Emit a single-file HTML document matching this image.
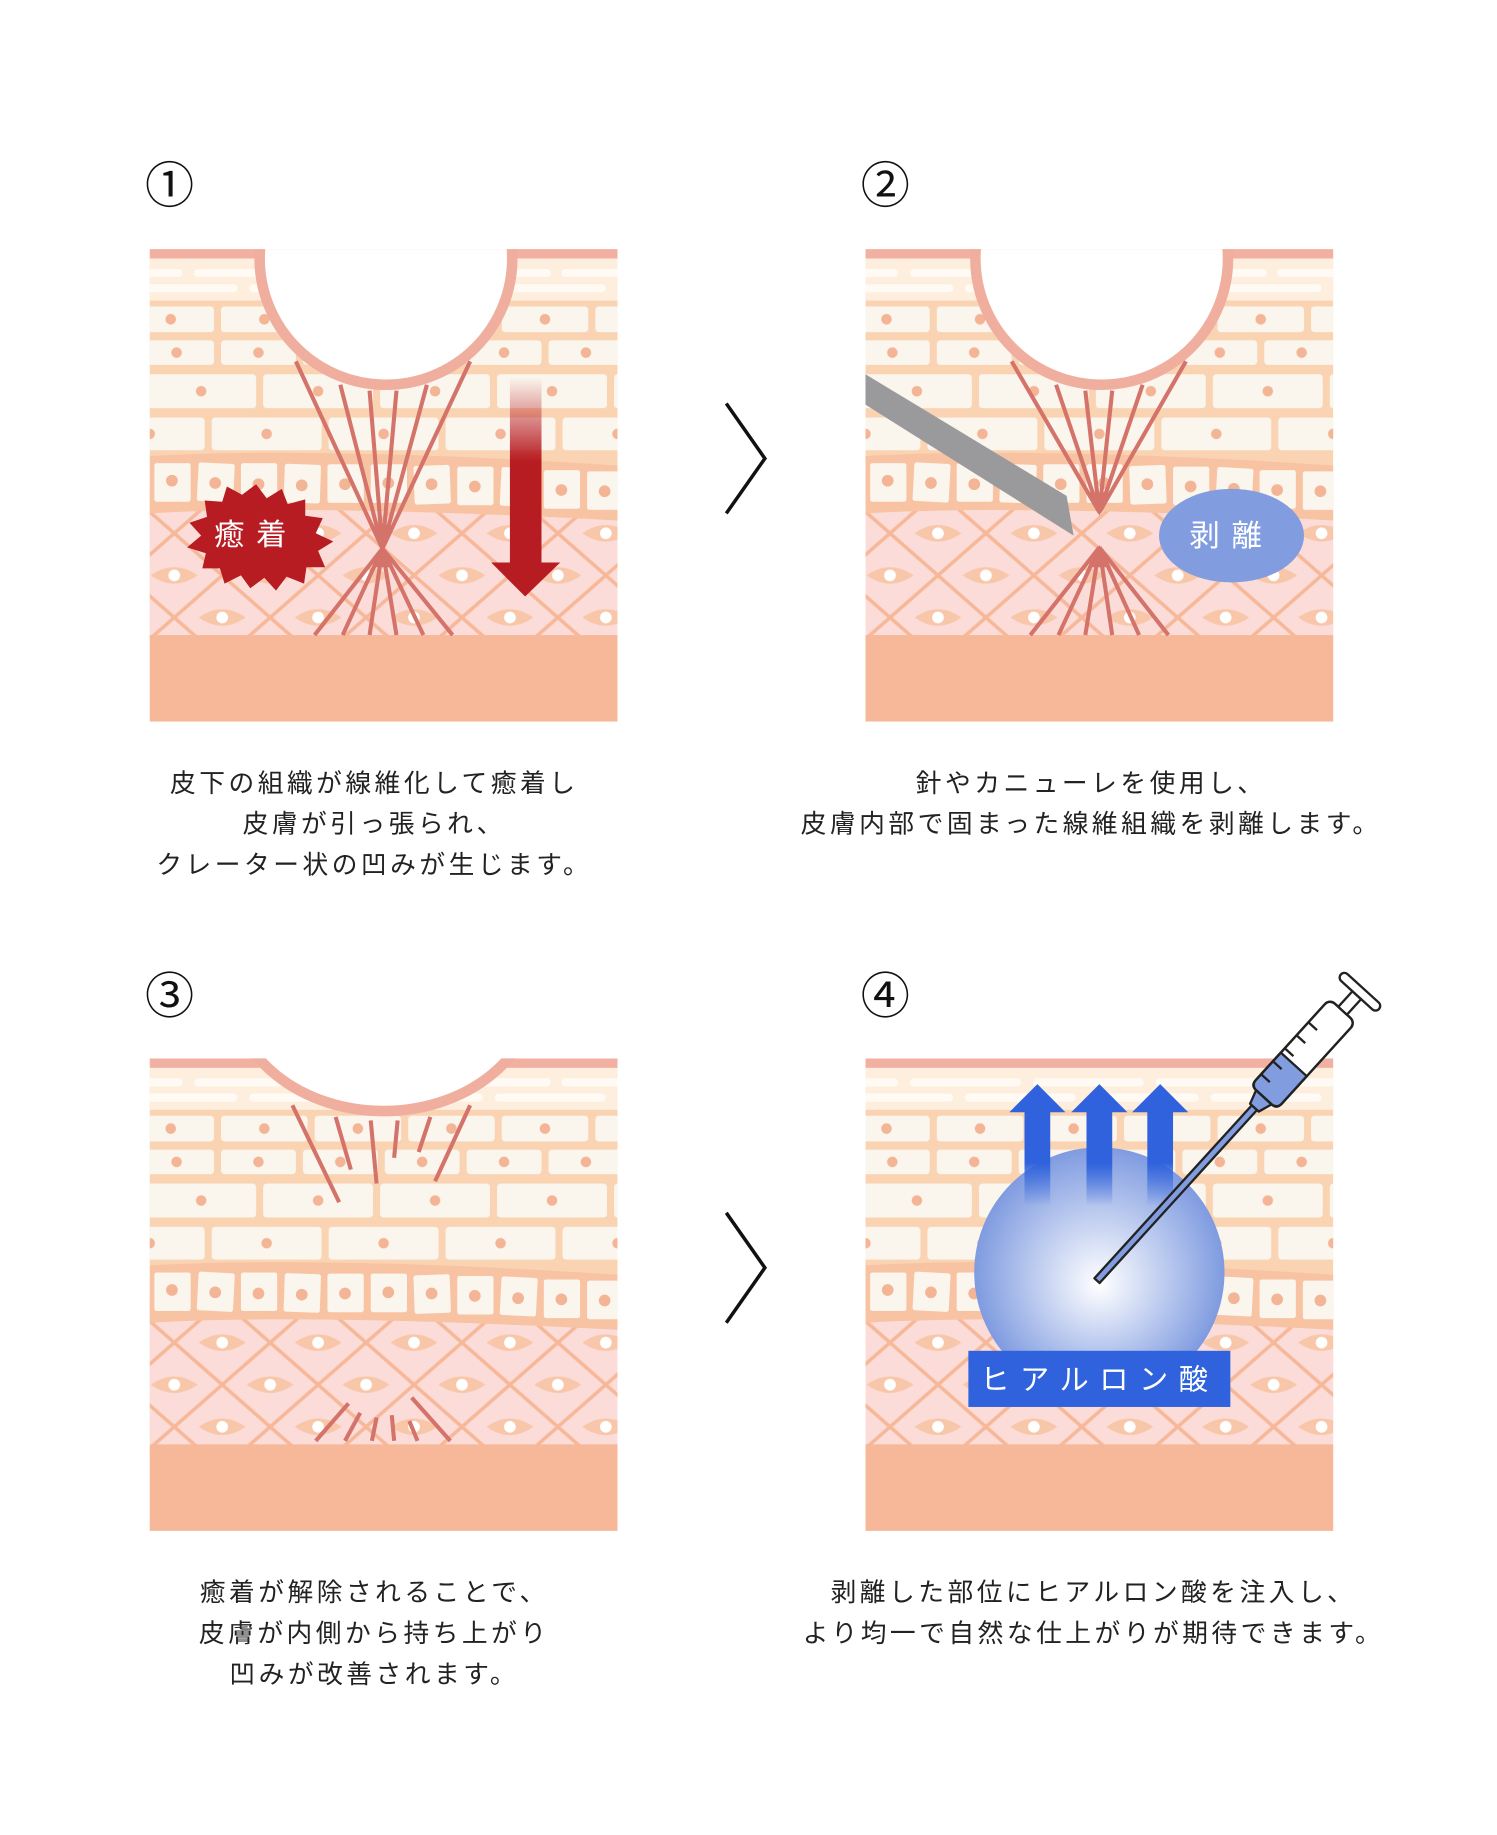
<!DOCTYPE html>
<html><head><meta charset="utf-8"><style>
html,body{margin:0;padding:0;background:#fff}
svg{display:block}
text{font-family:"Liberation Sans","Noto Sans CJK JP",sans-serif}
</style></head><body>
<svg width="1497" height="1835" viewBox="0 0 1280 1569" xmlns="http://www.w3.org/2000/svg">
<defs>
<clipPath id="cp"><rect x="0" y="0" width="400" height="404"/></clipPath>
<pattern id="r1" width="80" height="22" patternUnits="userSpaceOnUse" patternTransform="translate(-22,49)">
<rect x="3" y="0" width="74" height="22" rx="3" fill="#faf5ed"/><circle cx="40" cy="11" r="4.5" fill="#f4b496"/></pattern>
<pattern id="r2" width="70" height="21" patternUnits="userSpaceOnUse" patternTransform="translate(-12,78)">
<rect x="3" y="0" width="64" height="21" rx="3" fill="#faf5ed"/><circle cx="35" cy="10.5" r="4.5" fill="#f4b496"/></pattern>
<pattern id="r3" width="100" height="29" patternUnits="userSpaceOnUse" patternTransform="translate(-6,107)">
<rect x="3" y="0" width="94" height="29" rx="3" fill="#faf5ed"/><circle cx="50" cy="14.5" r="4.5" fill="#f4b496"/></pattern>
<pattern id="r4" width="100" height="28" patternUnits="userSpaceOnUse" patternTransform="translate(-50,144)">
<rect x="3" y="0" width="94" height="28" rx="3" fill="#faf5ed"/><circle cx="50" cy="14" r="4.5" fill="#f4b496"/></pattern>
<pattern id="lat" width="82" height="72" patternUnits="userSpaceOnUse" patternTransform="translate(-20,207)">
<rect width="82" height="72" fill="#fcdcd8"/>
<g fill="#f8c6a8">
<path d="M21 0 Q41 -14 61 0 Q41 14 21 0Z"/><path d="M21 72 Q41 58 61 72 Q41 86 21 72Z"/>
<path d="M-20 36 Q0 22 20 36 Q0 50 -20 36Z"/><path d="M62 36 Q82 22 102 36 Q82 50 62 36Z"/></g>
<g fill="#fff"><circle cx="41" cy="0" r="5"/><circle cx="41" cy="72" r="5"/><circle cx="0" cy="36" r="5"/><circle cx="82" cy="36" r="5"/></g>
<path d="M0 0 L82 72 M82 0 L0 72" stroke="#f6b898" stroke-width="3"/>
</pattern>
<g id="skin">
<rect x="0" y="0" width="400" height="404" fill="#f9d3b2"/>
<rect x="0" y="8" width="400" height="36" fill="#fdeedd"/>
<g fill="#fffaf4">
<rect x="-10" y="17" width="38" height="7" rx="3.5"/><rect x="38" y="17" width="95" height="7" rx="3.5"/><rect x="143" y="17" width="95" height="7" rx="3.5"/><rect x="248" y="17" width="95" height="7" rx="3.5"/><rect x="352" y="17" width="60" height="7" rx="3.5"/>
<rect x="-10" y="30" width="85" height="7" rx="3.5"/><rect x="85" y="30" width="95" height="7" rx="3.5"/><rect x="190" y="30" width="95" height="7" rx="3.5"/><rect x="295" y="30" width="95" height="7" rx="3.5"/></g>
<rect x="0" y="49" width="400" height="22" fill="url(#r1)"/>
<rect x="0" y="78" width="400" height="21" fill="url(#r2)"/>
<rect x="0" y="107" width="400" height="29" fill="url(#r3)"/>
<rect x="0" y="144" width="400" height="28" fill="url(#r4)"/>
<rect x="0" y="205" width="400" height="130" fill="url(#lat)"/>
<path d="M0 177 C100 171 250 175 400 185 L400 232 C250 224 100 220 0 226Z" fill="#f8c3a2"/>
<g fill="#faf5ed">
<rect x="4" y="183" width="31" height="33" rx="2"/><rect x="41" y="183" width="31" height="33" rx="2" transform="rotate(3 56 200)"/><rect x="78" y="183" width="31" height="33" rx="2"/><rect x="115" y="184" width="31" height="33" rx="2" transform="rotate(2 130 200)"/><rect x="152" y="184" width="31" height="33" rx="2"/><rect x="189" y="184" width="31" height="33" rx="2"/><rect x="226" y="185" width="31" height="33" rx="2" transform="rotate(-2 241 201)"/><rect x="263" y="186" width="31" height="33" rx="2"/><rect x="300" y="187" width="31" height="33" rx="2" transform="rotate(3 315 204)"/><rect x="337" y="189" width="31" height="33" rx="2"/><rect x="374" y="190" width="31" height="33" rx="2"/></g>
<g fill="#f4b496">
<circle cx="19" cy="198" r="5"/><circle cx="56" cy="200" r="5"/><circle cx="93" cy="201" r="5"/><circle cx="130" cy="202" r="5"/><circle cx="167" cy="201" r="5"/><circle cx="204" cy="200" r="5"/><circle cx="241" cy="201" r="5"/><circle cx="278" cy="203" r="5"/><circle cx="315" cy="205" r="5"/><circle cx="352" cy="206" r="5"/><circle cx="389" cy="207" r="5"/></g>
<rect x="0" y="330" width="400" height="74" fill="#f6b898"/>
<rect x="0" y="0" width="400" height="8" fill="#f2b0a2"/>
</g>
<radialGradient id="sph" cx="0.5" cy="0.5" r="0.5" fx="0.5" fy="0.55">
<stop offset="0" stop-color="#ffffff"/><stop offset="1" stop-color="#7f9be0"/></radialGradient>
<linearGradient id="redg" x1="0" y1="0" x2="0" y2="1">
<stop offset="0" stop-color="#b71c22" stop-opacity="0"/><stop offset="0.45" stop-color="#b71c22"/><stop offset="1" stop-color="#b71c22"/></linearGradient>
<linearGradient id="blg" x1="0" y1="0" x2="0" y2="1">
<stop offset="0" stop-color="#2f62dc"/><stop offset="0.55" stop-color="#2f62dc"/><stop offset="1" stop-color="#2f62dc" stop-opacity="0"/></linearGradient>
</defs>

<!-- Panel 1 -->
<g transform="translate(128,213)" clip-path="url(#cp)">
<use href="#skin"/>
<circle cx="202" cy="8" r="108" fill="#fff" stroke="#f0ae9e" stroke-width="9"/>
<g stroke="#d4736a" stroke-width="3.5" fill="none">
<path d="M125 96 L199 256 L141 330 M163 116 L199 256 L165 330 M188 121 L199 256 L188 330 M211 121 L199 256 L211 330 M237 116 L199 256 L234 330 M274 96 L199 256 L259 330"/></g>
<path d="M190 240 L199 258 L208 240Z M191 272 L199 254 L207 272Z" fill="#d4736a"/>
<path d="M91 201 L100 213 L113 205 L118 218 L133 214 L133 228 L148 230 L142 243 L157 250 L144 258 L150 272 L134 272 L132 286 L117 280 L108 292 L98 281 L86 290 L78 279 L64 286 L60 273 L45 273 L48 260 L32 255 L44 245 L34 234 L49 229 L47 215 L62 216 L66 203 L79 210Z" fill="#b71c22"/>
<text x="91" y="253" font-size="26" fill="#fff" text-anchor="middle" letter-spacing="10">癒着</text>
<rect x="308" y="110" width="27" height="160" fill="url(#redg)"/>
<path d="M292 268 L351 268 L321 297Z" fill="#b71c22"/>
</g>

<!-- Panel 2 -->
<g transform="translate(740,213)" clip-path="url(#cp)">
<use href="#skin"/>
<circle cx="202" cy="8" r="108" fill="#fff" stroke="#f0ae9e" stroke-width="9"/>
<g stroke="#d4736a" stroke-width="3.5" fill="none">
<path d="M125 96 L200 225 M163 116 L200 225 M188 121 L200 225 M211 121 L200 225 M237 116 L200 225 M274 96 L200 225"/>
<path d="M200 255 L141 330 M200 255 L165 330 M200 255 L188 330 M200 255 L211 330 M200 255 L234 330 M200 255 L259 330"/></g>
<path d="M190 208 L200 228 L210 208Z M190 272 L200 253 L210 272Z" fill="#d4736a"/>
<path d="M0 107 L172 211 L178 245 L0 133Z" fill="#9a9a9c"/>
<ellipse cx="313" cy="245" rx="62" ry="40" fill="#819ddf"/>
<text x="313" y="254" font-size="26" fill="#fff" text-anchor="middle" letter-spacing="10">剥離</text>
</g>

<!-- Panel 3 -->
<g transform="translate(128,905)" clip-path="url(#cp)">
<use href="#skin"/>
<ellipse cx="200" cy="-60" rx="130" ry="105" fill="#fff" stroke="#f0ae9e" stroke-width="9"/>
<g stroke="#d4736a" stroke-width="3.5" fill="none">
<path d="M122 40 L162 123 M159 50 L172 95 M189 53 L194 107 M212 53 L209 85 M240 50 L230 80 M274 40 L244 105"/>
<path d="M142 327 L170 295 M167 327 L180 303 M190 327 L194 307 M209 327 L207 305 M229 327 L222 310 M257 327 L224 290"/></g>
</g>

<!-- Panel 4 -->
<g transform="translate(740,905)" clip-path="url(#cp)">
<use href="#skin"/>
<circle cx="200" cy="183" r="107" fill="url(#sph)"/>
<g fill="url(#blg)">
<rect x="136" y="44" width="22" height="82"/><rect x="189" y="44" width="22" height="82"/><rect x="241" y="44" width="22" height="82"/></g>
<g fill="#2f62dc">
<path d="M123 46 L147 22 L171 46Z"/><path d="M176 46 L200 22 L224 46Z"/><path d="M228 46 L252 22 L276 46Z"/></g>
<rect x="88" y="250" width="224" height="48" fill="#2f62dc"/>
<text x="200" y="283" font-size="25" fill="#fff" text-anchor="middle" letter-spacing="9">ヒアルロン酸</text>
</g>
<!-- Syringe -->
<g transform="translate(938,1095) rotate(-47.7)" stroke="#222" stroke-width="2" stroke-linejoin="round">
<rect x="0" y="-3" width="200" height="6" fill="#819ddf"/>
<path d="M200 -5 L212 -9 L212 9 L200 5Z" fill="#819ddf"/>
<rect x="212" y="-15" width="100" height="30" rx="6" fill="#fff"/>
<path d="M218 -15 L250 -15 L250 15 L218 15 Q212 15 212 9 L212 -9 Q212 -15 218 -15Z" fill="#819ddf"/>
<rect x="212" y="-15" width="100" height="30" rx="6" fill="none"/>
<path d="M225 -15 V-5 M240 -15 V-5 M255 -15 V-5 M270 -15 V-5 M285 -15 V-5" />
<rect x="312" y="-5" width="18" height="10" fill="#fff"/>
<rect x="330" y="-22" width="8" height="44" rx="4" fill="#fff"/>
</g>

<g font-size="42" fill="#111" text-anchor="middle">
<text x="145" y="173">①</text><text x="757" y="173">②</text>
<text x="145" y="866">③</text><text x="757" y="866">④</text></g>
<g fill="none" stroke="#111" stroke-width="3">
<polyline points="621,345 654,392 621,439"/><polyline points="621,1037 654,1084 621,1131"/></g>
<g font-size="22" fill="#222" text-anchor="middle" letter-spacing="3">
<text x="320" y="677">皮下の組織が線維化して癒着し</text>
<text x="320" y="712">皮膚が引っ張られ、</text>
<text x="320" y="747">クレーター状の凹みが生じます。</text>
<text x="933" y="677">針やカニューレを使用し、</text>
<text x="933" y="712">皮膚内部で固まった線維組織を剥離します。</text>
<text x="320" y="1369">癒着が解除されることで、</text>
<text x="320" y="1404">皮膚が内側から持ち上がり</text>
<text x="320" y="1439">凹みが改善されます。</text>
<text x="935" y="1369">剥離した部位にヒアルロン酸を注入し、</text>
<text x="935" y="1404">より均一で自然な仕上がりが期待できます。</text>
</g>
</svg>
</body></html>
